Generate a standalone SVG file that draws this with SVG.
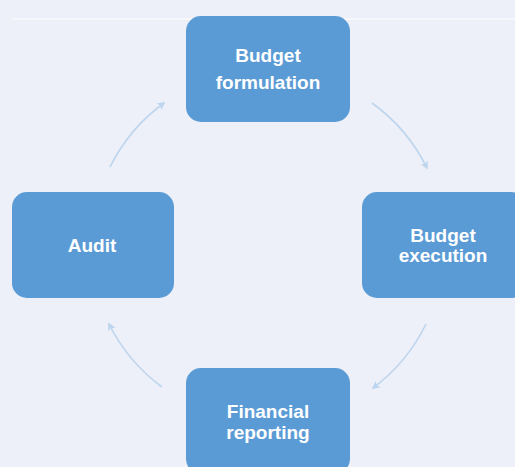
<svg xmlns="http://www.w3.org/2000/svg" width="515" height="467" viewBox="0 0 515 467">
  <style>
    .node rect { fill: #5b9bd5; }
    .node text { fill: #ffffff; font-family: "Liberation Sans", Arial, sans-serif; font-weight: bold; font-size: 19px; text-anchor: middle; }
    .conn path { fill: none; stroke: #bdd5ee; stroke-width: 1.6; marker-end: url(#arr); }
  </style>
  <defs>
    <marker id="arr" viewBox="0 0 10 10" refX="8" refY="5" markerWidth="5" markerHeight="5" orient="auto" markerUnits="strokeWidth">
      <path d="M0,0 L10,5 L0,10 L2.5,5 Z" fill="#bdd5ee"/>
    </marker>
  </defs>
  <rect x="0" y="0" width="515" height="467" fill="#edf0f8"/>
  <line x1="12" y1="19" x2="515" y2="19" stroke="#f8f9fc" stroke-width="1.5"/>
  <g class="conn">
    <path d="M372,103 A176,176 0 0 1 427,168"/>
    <path d="M426,324 A176,176 0 0 1 373,388"/>
    <path d="M162,387 A176,176 0 0 1 109,324"/>
    <path d="M110,167 A176,176 0 0 1 164,103"/>
  </g>
  <g id="budget-formulation" class="node">
    <rect x="186" y="16" width="164" height="106" rx="15"/>
    <text x="268" y="62">Budget</text>
    <text x="268" y="89">formulation</text>
  </g>
  <g id="budget-execution" class="node">
    <rect x="362" y="192" width="164" height="106" rx="15"/>
    <text x="443" y="242">Budget</text>
    <text x="443" y="262">execution</text>
  </g>
  <g id="financial-reporting" class="node">
    <rect x="186" y="368" width="164" height="106" rx="15"/>
    <text x="268" y="418">Financial</text>
    <text x="268" y="439">reporting</text>
  </g>
  <g id="audit" class="node">
    <rect x="12" y="192" width="162" height="106" rx="15"/>
    <text x="92" y="252">Audit</text>
  </g>
</svg>
